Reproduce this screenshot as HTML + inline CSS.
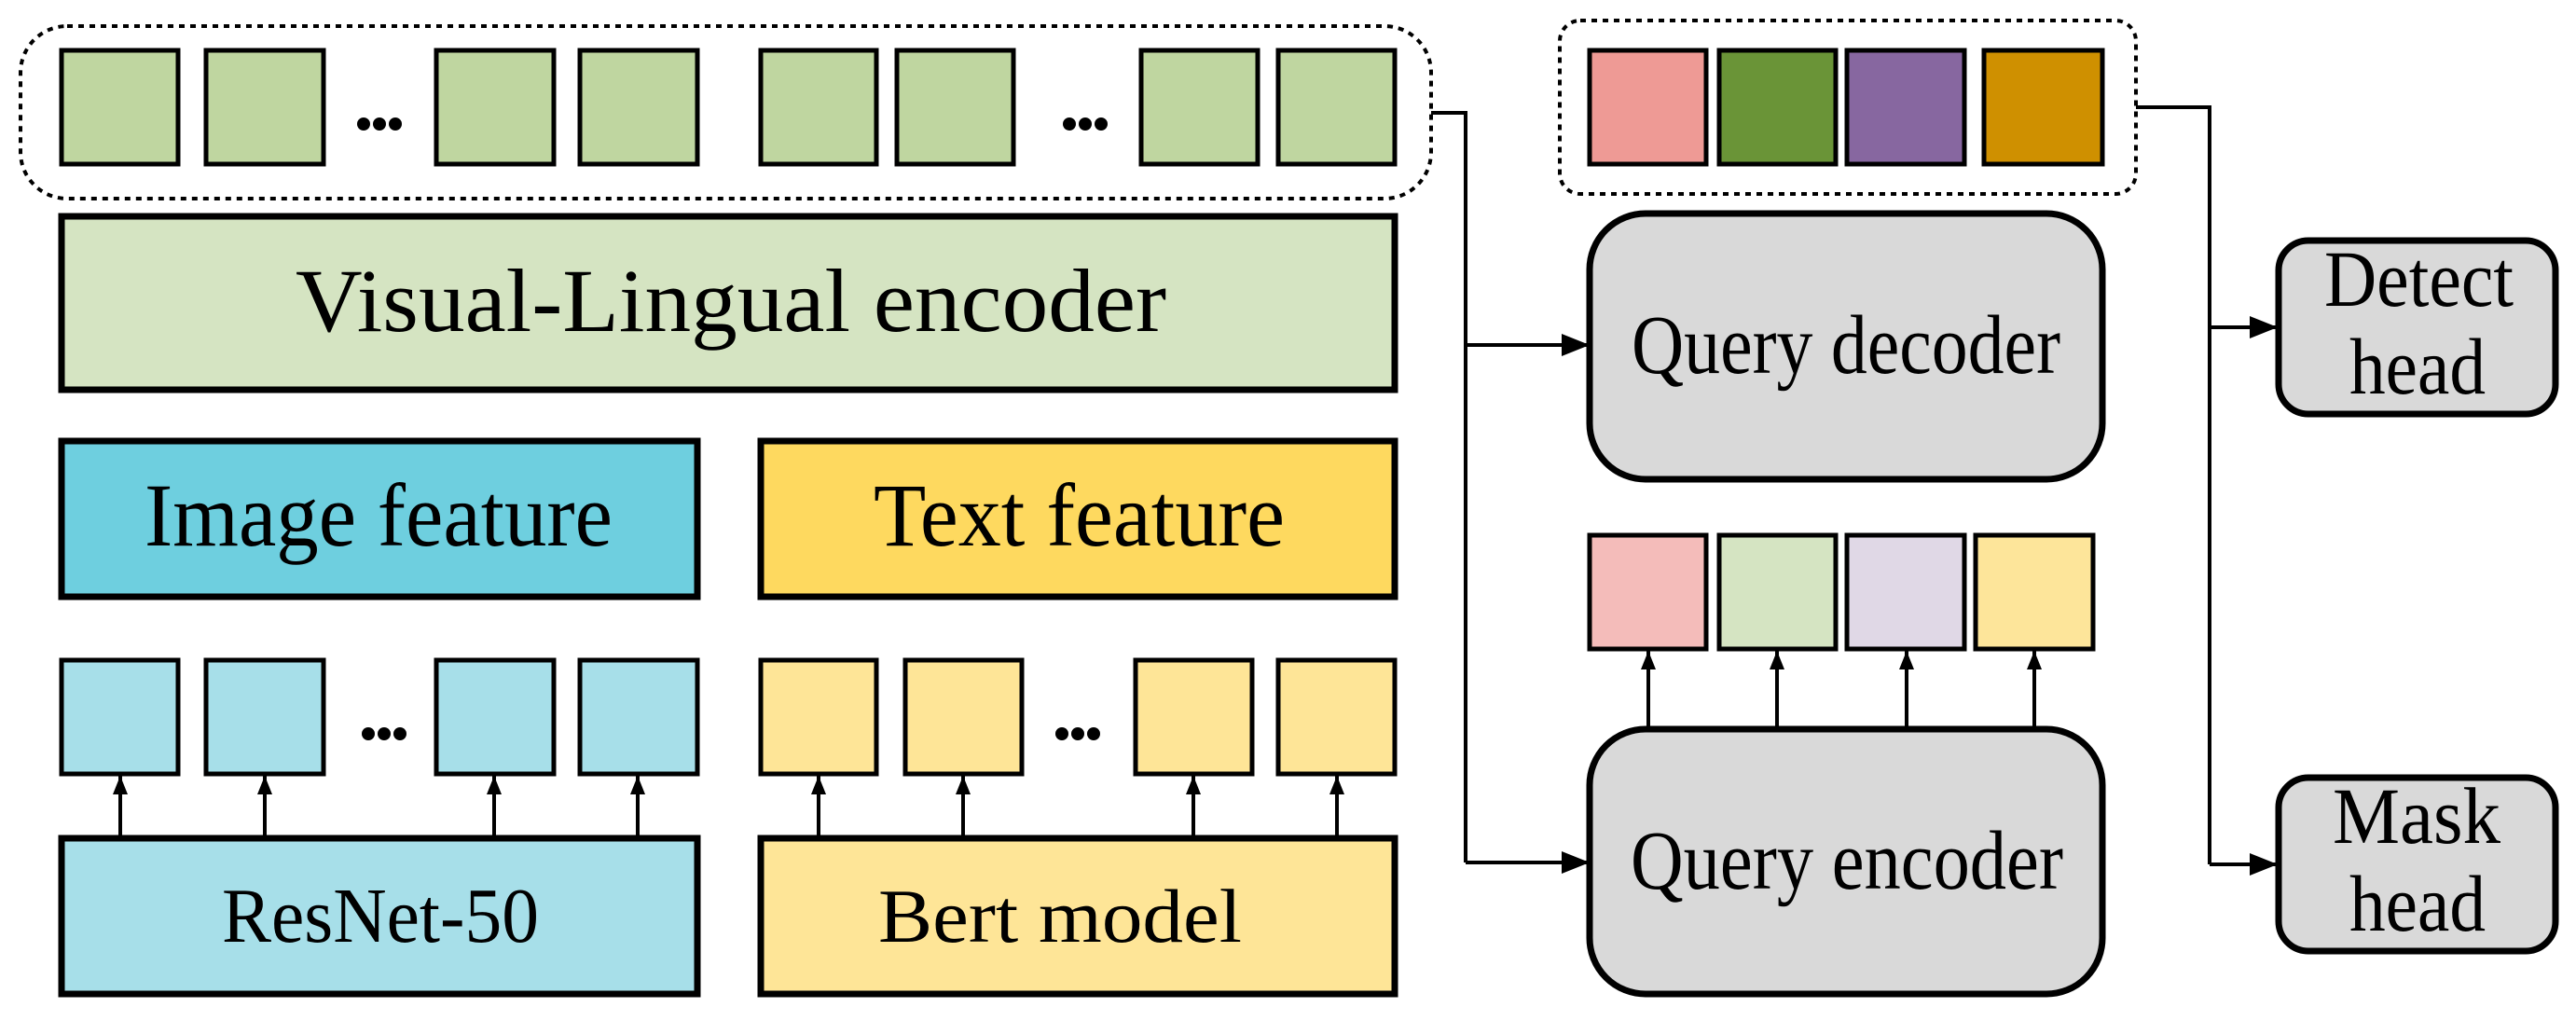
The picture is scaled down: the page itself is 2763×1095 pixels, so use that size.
<!DOCTYPE html>
<html><head><meta charset="utf-8"><style>
html,body{margin:0;padding:0;background:#fff;}
svg{display:block;}
text{font-family:"Liberation Serif","Times New Roman",serif;fill:#000;}
</style></head><body>
<svg width="2763" height="1095" viewBox="0 0 2763 1095" xmlns="http://www.w3.org/2000/svg">
<defs>
<marker id="ab" viewBox="0 0 10 8" refX="10" refY="4" markerWidth="30" markerHeight="24" orient="auto" markerUnits="userSpaceOnUse">
<path d="M0,0 L10,4 L0,8 z" fill="#000"/>
</marker>
<marker id="as" viewBox="0 0 10 8" refX="10" refY="4" markerWidth="30" markerHeight="16" orient="auto" markerUnits="userSpaceOnUse">
<path d="M0,0 L10,4 L0,8 z" fill="#000"/>
</marker>
</defs>

<rect x="22" y="28" width="1513" height="185" rx="50" ry="50" fill="none" stroke="#000" stroke-width="4" stroke-dasharray="6,6"/>
<g fill="#bfd6a0" stroke="#000" stroke-width="5">
<rect x="66" y="54" width="125" height="122"/>
<rect x="221" y="54" width="126" height="122"/>
<rect x="468" y="54" width="126" height="122"/>
<rect x="622" y="54" width="126" height="122"/>
<rect x="816" y="54" width="124" height="122"/>
<rect x="962" y="54" width="125" height="122"/>
<rect x="1224" y="54" width="125" height="122"/>
<rect x="1371" y="54" width="125" height="122"/>
</g>
<g fill="#000">
<circle cx="390" cy="133" r="7"/><circle cx="407" cy="133" r="7"/><circle cx="424" cy="133" r="7"/>
<circle cx="1147" cy="133" r="7"/><circle cx="1164" cy="133" r="7"/><circle cx="1181" cy="133" r="7"/>
<circle cx="395" cy="787" r="7"/><circle cx="412" cy="787" r="7"/><circle cx="429" cy="787" r="7"/>
<circle cx="1139" cy="787" r="7"/><circle cx="1156" cy="787" r="7"/><circle cx="1173" cy="787" r="7"/>
</g>

<rect x="66" y="232" width="1430" height="186" fill="#d5e4c2" stroke="#000" stroke-width="7"/>
<text x="317" y="355" font-size="96" textLength="934" lengthAdjust="spacingAndGlyphs">Visual-Lingual encoder</text>

<rect x="66" y="473" width="682" height="167" fill="#6ecfdf" stroke="#000" stroke-width="7"/>
<text x="155" y="585" font-size="96" textLength="502" lengthAdjust="spacingAndGlyphs">Image feature</text>
<rect x="816" y="473" width="680" height="167" fill="#fed95f" stroke="#000" stroke-width="7"/>
<text x="937" y="585" font-size="96" textLength="441" lengthAdjust="spacingAndGlyphs">Text feature</text>

<g fill="#a7dfe9" stroke="#000" stroke-width="5">
<rect x="66" y="708" width="125" height="122"/>
<rect x="221" y="708" width="126" height="122"/>
<rect x="468" y="708" width="126" height="122"/>
<rect x="622" y="708" width="126" height="122"/>
</g>
<g fill="#fee597" stroke="#000" stroke-width="5">
<rect x="816" y="708" width="124" height="122"/>
<rect x="971" y="708" width="125" height="122"/>
<rect x="1218" y="708" width="125" height="122"/>
<rect x="1371" y="708" width="125" height="122"/>
</g>

<g stroke="#000" stroke-width="4" marker-end="url(#as)">
<line x1="129" y1="897" x2="129" y2="832"/>
<line x1="284" y1="897" x2="284" y2="832"/>
<line x1="530" y1="897" x2="530" y2="832"/>
<line x1="684" y1="897" x2="684" y2="832"/>
<line x1="878" y1="897" x2="878" y2="832"/>
<line x1="1033" y1="897" x2="1033" y2="832"/>
<line x1="1280" y1="897" x2="1280" y2="832"/>
<line x1="1434" y1="897" x2="1434" y2="832"/>
</g>

<rect x="66" y="899" width="682" height="167" fill="#a7dfe9" stroke="#000" stroke-width="7"/>
<text x="238" y="1010" font-size="84" textLength="340" lengthAdjust="spacingAndGlyphs">ResNet-50</text>
<rect x="816" y="899" width="680" height="167" fill="#fee597" stroke="#000" stroke-width="7"/>
<text x="942" y="1010" font-size="82" textLength="390" lengthAdjust="spacingAndGlyphs">Bert model</text>

<polyline points="1535,121 1572,121 1572,925" fill="none" stroke="#000" stroke-width="4"/>
<line x1="1572" y1="370" x2="1705" y2="370" stroke="#000" stroke-width="4" marker-end="url(#ab)"/>
<line x1="1572" y1="925" x2="1705" y2="925" stroke="#000" stroke-width="4" marker-end="url(#ab)"/>

<rect x="1673" y="22" width="618" height="186" rx="22" ry="22" fill="none" stroke="#000" stroke-width="4" stroke-dasharray="6,6"/>
<g stroke="#000" stroke-width="5">
<rect x="1705" y="54" width="125" height="122" fill="#ee9a95"/>
<rect x="1844" y="54" width="125" height="122" fill="#6a9437"/>
<rect x="1981" y="54" width="126" height="122" fill="#8767a0"/>
<rect x="2128" y="54" width="127" height="122" fill="#cf9000"/>
</g>

<rect x="1705" y="229" width="550" height="285" rx="60" ry="60" fill="#d9d9d9" stroke="#000" stroke-width="7"/>
<text x="1750" y="400" font-size="90" textLength="460" lengthAdjust="spacingAndGlyphs">Query decoder</text>

<g stroke="#000" stroke-width="5">
<rect x="1705" y="574" width="125" height="122" fill="#f4bcba"/>
<rect x="1844" y="574" width="125" height="122" fill="#d5e4c2"/>
<rect x="1981" y="574" width="126" height="122" fill="#e0d8e6"/>
<rect x="2119" y="574" width="126" height="122" fill="#fde59a"/>
</g>
<g stroke="#000" stroke-width="4" marker-end="url(#as)">
<line x1="1768" y1="782" x2="1768" y2="698"/>
<line x1="1906" y1="782" x2="1906" y2="698"/>
<line x1="2045" y1="782" x2="2045" y2="698"/>
<line x1="2182" y1="782" x2="2182" y2="698"/>
</g>

<rect x="1705" y="782" width="550" height="284" rx="60" ry="60" fill="#d9d9d9" stroke="#000" stroke-width="7"/>
<text x="1749" y="953" font-size="90" textLength="464" lengthAdjust="spacingAndGlyphs">Query encoder</text>

<polyline points="2291,115 2370,115 2370,927" fill="none" stroke="#000" stroke-width="4"/>
<line x1="2370" y1="351" x2="2443" y2="351" stroke="#000" stroke-width="4" marker-end="url(#ab)"/>
<line x1="2370" y1="927" x2="2443" y2="927" stroke="#000" stroke-width="4" marker-end="url(#ab)"/>

<rect x="2444" y="258" width="297" height="186" rx="32" ry="32" fill="#d9d9d9" stroke="#000" stroke-width="7"/>
<text x="2493" y="328" font-size="86" textLength="203" lengthAdjust="spacingAndGlyphs">Detect</text>
<text x="2520" y="422" font-size="86" textLength="146" lengthAdjust="spacingAndGlyphs">head</text>
<rect x="2444" y="834" width="297" height="186" rx="32" ry="32" fill="#d9d9d9" stroke="#000" stroke-width="7"/>
<text x="2502" y="904" font-size="86" textLength="180" lengthAdjust="spacingAndGlyphs">Mask</text>
<text x="2520" y="998" font-size="86" textLength="146" lengthAdjust="spacingAndGlyphs">head</text>
</svg>
</body></html>
